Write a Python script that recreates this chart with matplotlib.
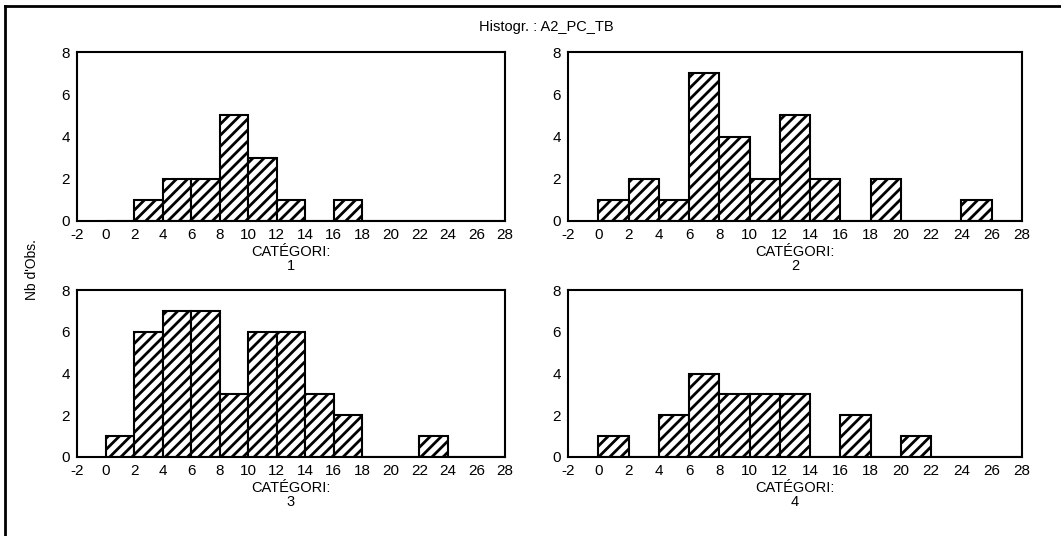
import matplotlib
matplotlib.use("Agg")
import matplotlib.pyplot as plt
from matplotlib.lines import Line2D

plt.rcParams['font.family'] = ['Liberation Sans', 'DejaVu Sans']
plt.rcParams['hatch.linewidth'] = 2.0
plt.rcParams['axes.unicode_minus'] = False

# bin left edges (width 2)
bins = [0, 2, 4, 6, 8, 10, 12, 14, 16, 18, 20, 22, 24, 26]
bin_width = 2

counts_1 = [0, 1, 2, 2, 5, 3, 1, 0, 1, 0, 0, 0, 0, 0]
counts_2 = [1, 2, 1, 7, 4, 2, 5, 2, 0, 2, 0, 0, 1, 0]
counts_3 = [1, 6, 7, 7, 3, 6, 6, 3, 2, 0, 0, 1, 0, 0]
counts_4 = [1, 0, 2, 4, 3, 3, 3, 0, 2, 0, 1, 0, 0, 0]

categories = ["1", "2", "3", "4"]
x_ticks = list(range(-2, 30, 2))
y_ticks = [0, 2, 4, 6, 8]

W, H = 1061, 536
fig = plt.figure(figsize=(W / 100, H / 100), dpi=100)

# panel boxes in pixels: left, right, top, bottom
boxes = [(77, 505, 52, 221), (568, 1022, 52, 221),
         (77, 505, 290, 457), (568, 1022, 290, 457)]

for counts, cat, (l, r, t, b) in zip([counts_1, counts_2, counts_3, counts_4],
                                     categories, boxes):
    ax = fig.add_axes([l / W, 1 - b / H, (r - l) / W, (b - t) / H])
    ax.bar(bins, counts, width=bin_width, align='edge', color='white',
           edgecolor='black', hatch='///', linewidth=1.5)
    ax.set_xlim(-2, 28)
    ax.set_ylim(0, 8)
    ax.set_xticks(x_ticks)
    ax.set_yticks(y_ticks)
    ax.tick_params(length=0, labelsize=11, pad=5)
    for s in ax.spines.values():
        s.set_linewidth(1.5)
    ax.set_xlabel("CATÉGORI:\n" + cat, fontsize=10.5, labelpad=2,
                  linespacing=1.0)

fig.text(546 / W, 1 - 27 / H, "Histogr. : A2_PC_TB", ha='center',
         va='center', fontsize=10.5)
fig.text(32 / W, 1 - 270 / H, "Nb d'Obs.", rotation=90, ha='center',
         va='center', fontsize=10)

# outer frame (top and left edges visible)
fig.add_artist(Line2D([5 / W, 5 / W], [0, 1 - 6 / H], color='black',
                      linewidth=2, transform=fig.transFigure))
fig.add_artist(Line2D([5 / W, 1], [1 - 6 / H, 1 - 6 / H], color='black',
                      linewidth=2, transform=fig.transFigure))

fig.savefig("out.png", dpi=100)
